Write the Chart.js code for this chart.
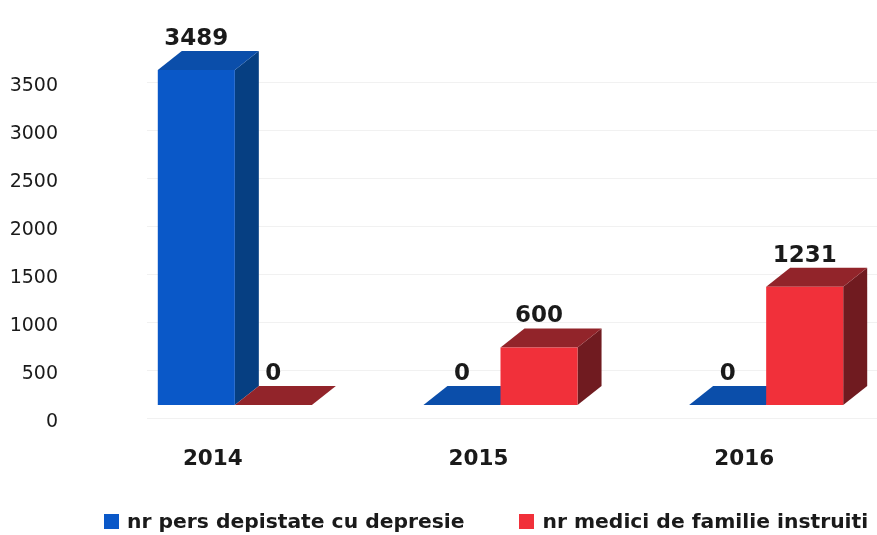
<!DOCTYPE html>
<html>
<head>
<meta charset="utf-8">
<script src="https://cdn.jsdelivr.net/npm/chart.js@4/dist/chart.umd.min.js"></script>
<style>
  html, body { margin: 0; padding: 0; background: #ffffff; overflow: hidden; }
  #wrap { position: relative; width: 877px; height: 535px; }
  #legend { position: absolute; left: 104px; top: 509px; display: flex; align-items: center;
            font-family: "DejaVu Sans", sans-serif; font-weight: bold; font-size: 20.3px; color: #1a1a1a; white-space: nowrap; }
  .item { display: flex; align-items: center; margin-right: 55px; }
  .sw { width: 15px; height: 15px; margin-right: 8px; display: inline-block; }
</style>
</head>
<body>
<div id="wrap">
  <canvas id="c" width="877" height="535"></canvas>
  <div id="legend"></div>
</div>
<script>
// ---- data ----
const categories = ['2014', '2015', '2016'];
const seriesNames = ['nr pers depistate cu depresie', 'nr medici de familie instruiti'];
const depistate = [3489, 0, 0];
const medici = [0, 600, 1231];
const yMax = 4000;
const yStep = 500;
const yLastLabel = 3500;

// ---- styles ----
const frontColors = ['#0a58c8', '#f1303a'];
const topColors = ['#0b4eaa', '#92242a'];
const sideColors = ['#063f82', '#701b20'];
const DX = 24, DY = -19;       // 3D depth projection
const SHIFT = 22;              // bars sit behind the category label line
const FONT = '"DejaVu Sans", sans-serif';

const bar3d = {
  id: 'bar3d',
  beforeDatasetsDraw(chart) {
    const ctx = chart.ctx;
    const ys = chart.scales.y;
    // faint back-wall grid lines
    ctx.save();
    ctx.strokeStyle = '#f1f1f1';
    ctx.lineWidth = 1;
    ys.ticks.forEach(t => {
      if (t.value > yLastLabel) return;
      const y = Math.round(ys.getPixelForValue(t.value) + 13) + 0.5;
      ctx.beginPath();
      ctx.moveTo(147, y);
      ctx.lineTo(chart.width, y);
      ctx.stroke();
    });
    ctx.restore();

    ctx.save();
    ctx.translate(SHIFT, 0);
    chart.data.datasets.forEach((ds, di) => {
      const meta = chart.getDatasetMeta(di);
      meta.data.forEach(bar => {
        const p = bar.getProps(['x', 'y', 'base', 'width'], true);
        const x0 = p.x - p.width / 2, x1 = p.x + p.width / 2;
        const yt = p.y, yb = p.base;
        if (yb - yt > 0.5) {
          ctx.fillStyle = sideColors[di];
          ctx.beginPath();
          ctx.moveTo(x1, yt);
          ctx.lineTo(x1 + DX, yt + DY);
          ctx.lineTo(x1 + DX, yb + DY);
          ctx.lineTo(x1, yb);
          ctx.closePath();
          ctx.fill();
        }
        ctx.fillStyle = topColors[di];
        ctx.beginPath();
        ctx.moveTo(x0, yt);
        ctx.lineTo(x1, yt);
        ctx.lineTo(x1 + DX, yt + DY);
        ctx.lineTo(x0 + DX, yt + DY);
        ctx.closePath();
        ctx.fill();
      });
    });
  },
  afterDatasetsDraw(chart) {
    const ctx = chart.ctx;
    ctx.fillStyle = '#1a1a1a';
    ctx.font = 'bold 23px ' + FONT;
    ctx.textAlign = 'center';
    ctx.textBaseline = 'alphabetic';
    chart.data.datasets.forEach((ds, di) => {
      const meta = chart.getDatasetMeta(di);
      meta.data.forEach((bar, i) => {
        const p = bar.getProps(['x', 'y'], true);
        ctx.fillText(String(ds.data[i]), p.x, p.y - 25);
      });
    });
    ctx.restore();
  }
};

const chart = new Chart(document.getElementById('c'), {
  type: 'bar',
  data: {
    labels: categories,
    datasets: [
      { label: seriesNames[0], data: depistate, backgroundColor: frontColors[0], borderWidth: 0 },
      { label: seriesNames[1], data: medici, backgroundColor: frontColors[1], borderWidth: 0 }
    ]
  },
  options: {
    responsive: false,
    animation: false,
    events: [],
    categoryPercentage: 0.58,
    barPercentage: 1.0,
    layout: { padding: { top: 21, left: 0, right: 0, bottom: 0 } },
    plugins: { legend: { display: false }, tooltip: { enabled: false } },
    scales: {
      x: {
        grid: { display: false, drawTicks: false },
        border: { display: false },
        ticks: {
          padding: 42,
          color: '#1a1a1a',
          font: { family: FONT, size: 21.5, weight: 'bold' }
        },
        afterFit(s) { s.height = 130; }
      },
      y: {
        min: 0,
        max: yMax,
        grid: { display: false, drawTicks: false },
        border: { display: false },
        ticks: {
          stepSize: yStep,
          padding: 22,
          labelOffset: 17,
          color: '#1a1a1a',
          font: { family: FONT, size: 19 },
          callback: v => (v > yLastLabel ? '' : v)
        },
        afterFit(s) { s.width = 80; s.paddingTop = 0; s.paddingBottom = 0; }
      }
    }
  },
  plugins: [bar3d]
});

// HTML legend built from the chart's datasets
const lg = document.getElementById('legend');
chart.data.datasets.forEach(ds => {
  const it = document.createElement('div');
  it.className = 'item';
  const sw = document.createElement('span');
  sw.className = 'sw';
  sw.style.background = ds.backgroundColor;
  const tx = document.createElement('span');
  tx.textContent = ds.label;
  it.appendChild(sw);
  it.appendChild(tx);
  lg.appendChild(it);
});
</script>
</body>
</html>
